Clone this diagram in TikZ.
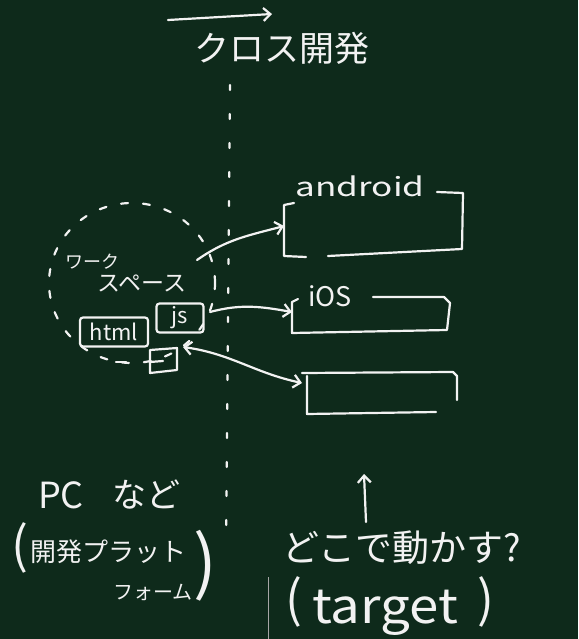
\documentclass[tikz,border=0pt]{standalone}
\usepackage{fontspec}
\usepackage{graphicx}
\setmainfont{Noto Sans CJK JP}
\usetikzlibrary{arrows.meta,shapes.geometric}
\definecolor{board}{HTML}{0E2A1B}
\definecolor{chalk}{HTML}{F2F2F2}
\tikzset{
  chalkline/.style={draw=chalk, line width=2.2pt, line cap=round, line join=round},
  barb/.tip={Straight Barb[length=7pt,width=13pt]},
  arr/.style={chalkline, -barb},
  txt/.style={text=chalk, inner sep=0pt, anchor=center},
}
\begin{document}
\begin{tikzpicture}[x=1pt,y=1pt]
\fill[board] (0,0) rectangle (578,-639);
\useasboundingbox (0,0) rectangle (578,-639);

% title
\coordinate (ta1) at (168,-20);
\coordinate (ta2) at (272,-14);
\draw[arr] (ta1) -- (ta2);
\node[txt,font=\fontsize{35}{40}\selectfont] (title) at (282,-48) {クロス開発};

% dotted divider
\coordinate (v1) at (230,-85);
\coordinate (v2) at (226,-545);
\draw[chalkline, dash pattern=on 5pt off 24pt] (v1) -- (v2);

% workspace
\node[ellipse, draw=chalk, line width=2.2pt, line cap=round, dash pattern=on 7pt off 15pt,
      minimum width=166pt, minimum height=160pt, inner sep=0pt] (ws) at (132,-283) {};
\node[txt,font=\fontsize{18}{20}\selectfont] (wk1) at (92,-262) {ワーク};
\node[txt,font=\fontsize{23}{26}\selectfont] (wk2) at (142,-284) {スペース};
\node[txt, draw=chalk, line width=2.2pt, rounded corners=3pt, minimum width=68pt,
      minimum height=29pt, font=\fontsize{22}{24}\selectfont] (html) at (114,-332) {html};
\node[txt, draw=chalk, line width=2.2pt, rounded corners=3pt, minimum width=47pt,
      minimum height=29pt, font=\fontsize{22}{24}\selectfont] (js) at (180,-318) {js};
\coordinate (d1) at (116,-362);
\coordinate (d2) at (126,-362);
\draw[chalkline] (d1) -- (d2);
\coordinate (b1) at (150,-350);
\coordinate (b2) at (177,-348);
\coordinate (b3) at (177,-370);
\coordinate (b4) at (150,-373);
\draw[chalkline] (b1) -- (b2) -- (b3) -- (b4) -- cycle;
\coordinate (m1) at (150,-362);
\coordinate (m2) at (163,-361);
\draw[chalkline] (m1) -- (m2);

% arrows to targets
\coordinate (a1s) at (197,-260);
\coordinate (a1e) at (284,-226);
\draw[arr] (a1s) to[out=35,in=195] (a1e);
\coordinate (a2s) at (210,-312);
\coordinate (a2e) at (292,-312);
\draw[arr] (a2s) to[out=15,in=170] (a2e);
\coordinate (a3s) at (183,-347);
\coordinate (a3e) at (302,-383);
\draw[chalkline, barb-barb] (a3s) to[out=-8,in=168] (a3e);

% android box
\node[txt,font=\fontsize{26}{28}\selectfont] (andr) at (360,-186) {\scalebox{1.35}[1]{android}};
\coordinate (p1) at (294,-203);
\coordinate (p2) at (284,-205);
\coordinate (p3) at (284,-256);
\coordinate (p4) at (306,-257);
\draw[chalkline] (p1) -- (p2) -- (p3) -- (p4);
\coordinate (p5) at (328,-256);
\coordinate (p6) at (462,-249);
\coordinate (p7) at (463,-193);
\coordinate (p8) at (437,-192);
\draw[chalkline] (p5) -- (p6) -- (p7) -- (p8);

% ios box
\node[txt,font=\fontsize{27}{29}\selectfont] (ios) at (330,-296) {iOS};
\coordinate (q1) at (298,-299);
\coordinate (q2) at (292,-302);
\coordinate (q3) at (292,-333);
\coordinate (q4) at (447,-330);
\coordinate (q5) at (450,-303);
\coordinate (q6) at (444,-297);
\coordinate (q7) at (373,-297);
\draw[chalkline] (q1) -- (q2) -- (q3) -- (q4) -- (q5) -- (q6) -- (q7);

% third box
\coordinate (r1) at (307,-376);
\coordinate (r2) at (307,-414);
\coordinate (r3) at (436,-412);
\draw[chalkline] (r1) -- (r2) -- (r3);
\coordinate (r4) at (302,-373);
\coordinate (r5) at (453,-372);
\coordinate (r6) at (457,-376);
\coordinate (r7) at (457,-400);
\draw[chalkline] (r4) -- (r5) -- (r6) -- (r7);

% bottom left
\node[txt,font=\fontsize{36}{40}\selectfont] (pc) at (61,-495) {PC};
\node[txt,font=\fontsize{34}{40}\selectfont] (nado) at (146,-495) {など};
\node[txt,font=\fontsize{50}{50}\selectfont] (lp1) at (20,-548) {(};
\node[txt,font=\fontsize{26}{30}\selectfont] (kaihatsu) at (108,-552) {開発プラット};
\node[txt,font=\fontsize{70}{70}\selectfont] (rp1) at (205,-566) {)};
\node[txt,font=\fontsize{20}{24}\selectfont] (form) at (153,-592) {フォーム};

% bottom right
\coordinate (up1) at (366,-522);
\coordinate (up2) at (364,-474);
\draw[arr] (up1) -- (up2);
\node[txt,font=\fontsize{37}{40}\selectfont] (doko) at (402,-548) {どこで動かす?};
\node[txt,font=\fontsize{50}{50}\selectfont] (lp2) at (294,-602) {(};
\node[txt,font=\fontsize{48}{50}\selectfont, anchor=base] (tgt) at (385,-623) {\scalebox{1.1}[1]{target}};
\node[txt,font=\fontsize{50}{50}\selectfont] (rp2) at (486,-602) {)};

\coordinate (g1) at (268,-577);
\coordinate (g2) at (268,-639);
\draw[gray!70, line width=1pt] (g1) -- (g2);
\end{tikzpicture}
\end{document}
